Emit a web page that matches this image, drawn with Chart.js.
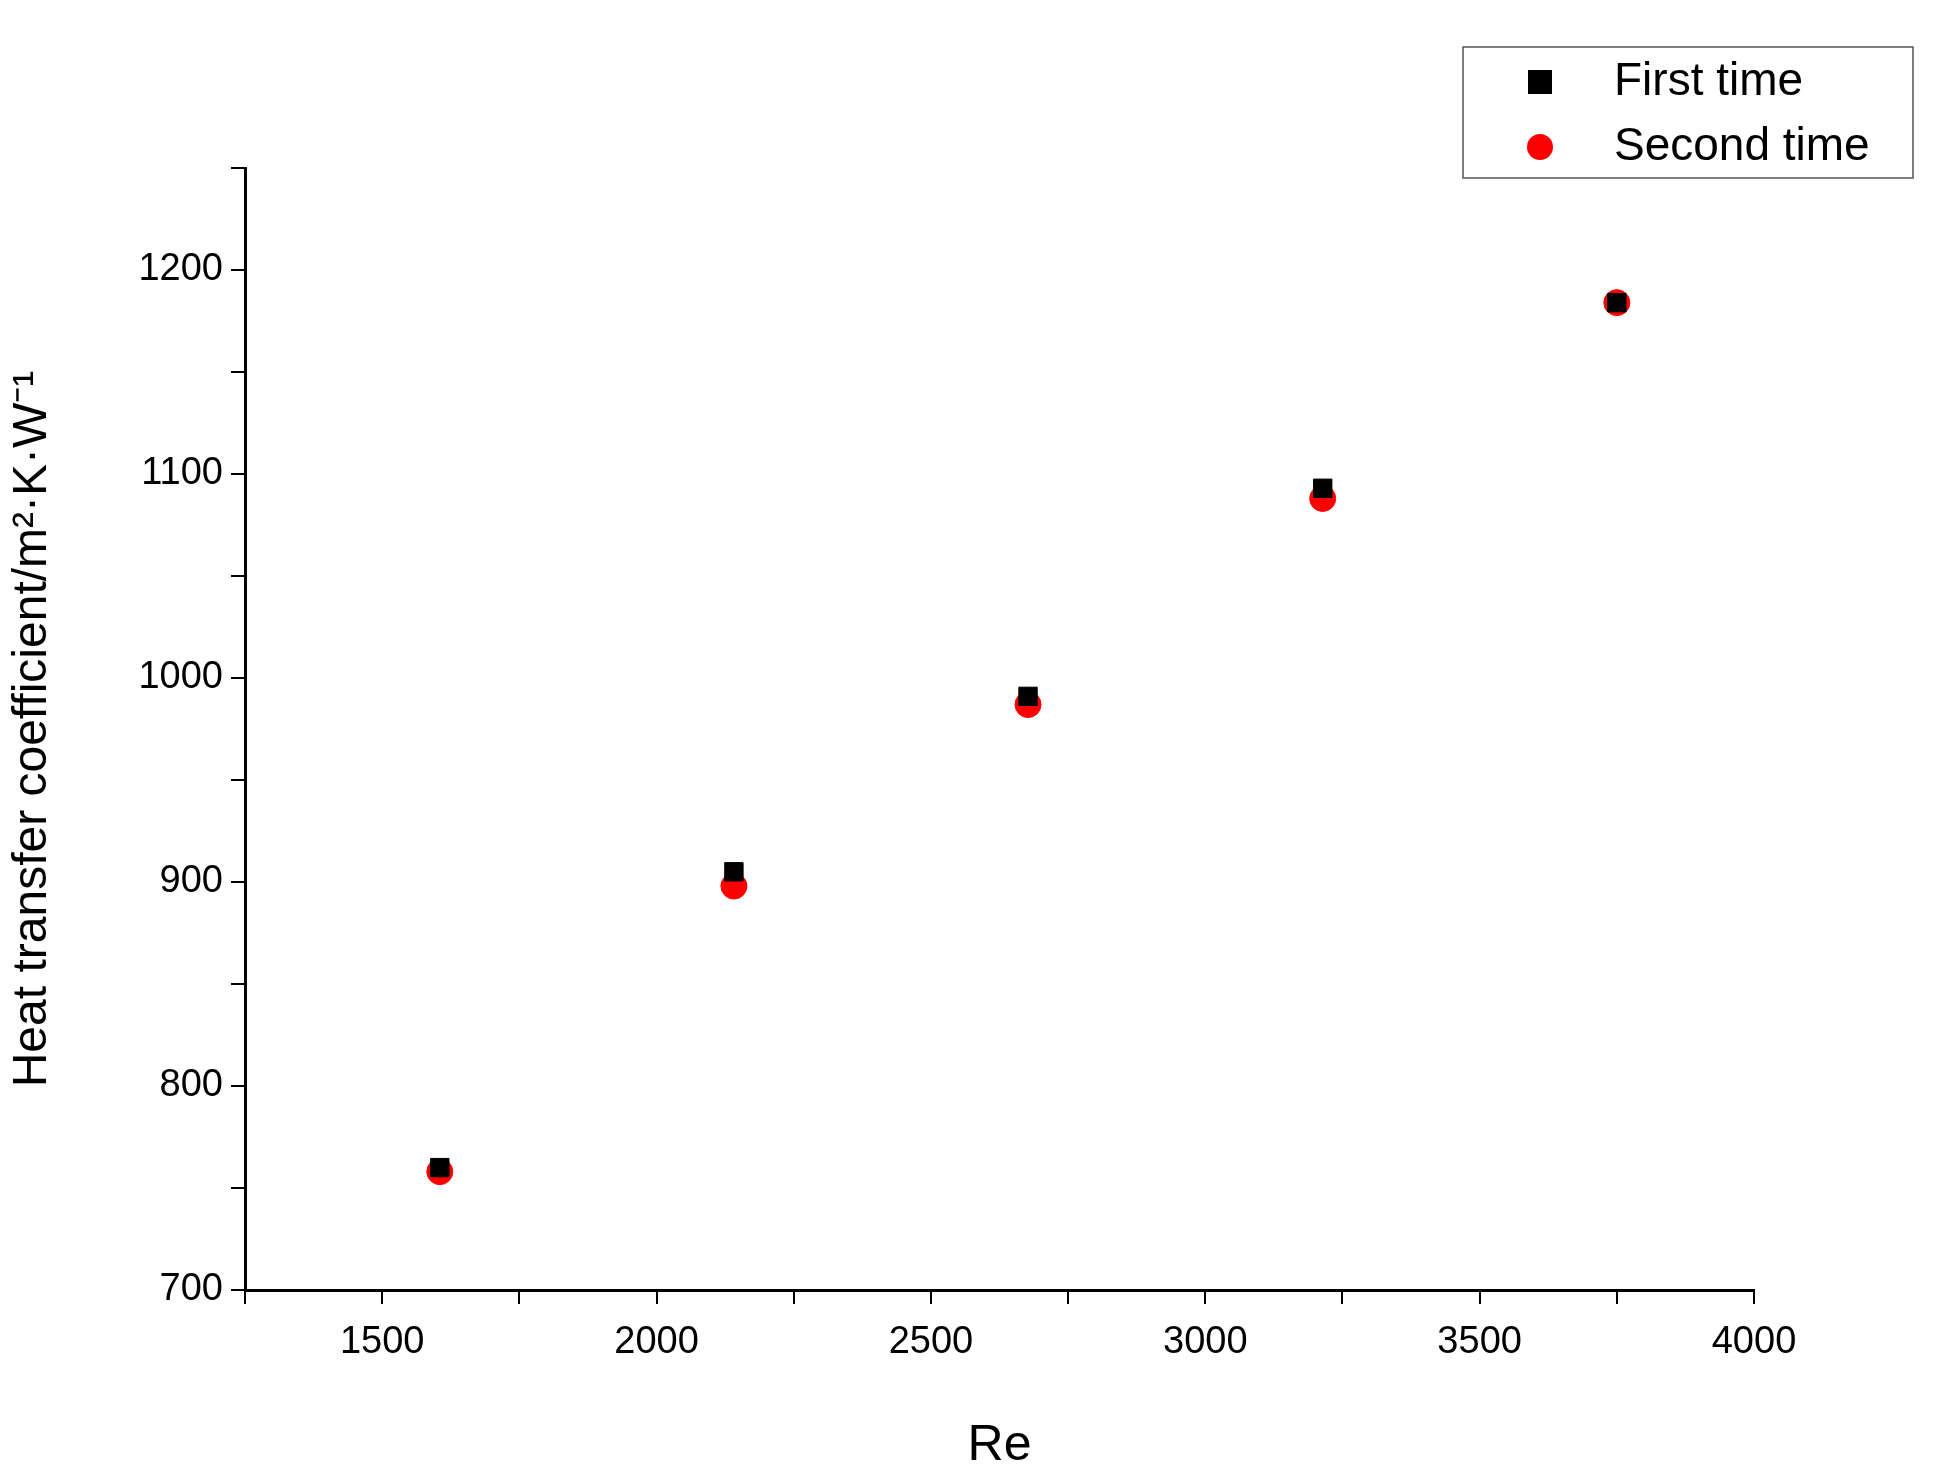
<!DOCTYPE html>
<html>
<head>
<meta charset="utf-8">
<script src="https://cdn.jsdelivr.net/npm/chart.js@4"></script>
<style>
  html, body { margin: 0; background: #fff; }
  canvas { display: block; }
</style>
</head>
<body>
<canvas id="heatChart" width="1940" height="1480"></canvas>
<script>
const reynolds = [1605, 2141, 2677, 3214, 3750];
const firstTime = [760, 905, 991, 1093, 1184];
const secondTime = [758, 898, 987, 1088, 1184];
const seriesNames = ['First time', 'Second time'];

const FONT = '"Liberation Sans", Arial, sans-serif';
const ctx = document.getElementById('heatChart').getContext('2d');

// легенда в рамке справа сверху
const boxLegend = {
  id: 'boxLegend',
  afterDraw(chart) {
    const c = chart.ctx;
    c.save();
    c.strokeStyle = '#555';
    c.lineWidth = 1.5;
    c.strokeRect(1463, 47, 450, 131);
    c.font = '46px ' + FONT;
    c.textBaseline = 'middle';
    c.fillStyle = '#000';
    c.fillRect(1528, 70, 24, 24);
    c.fillText(seriesNames[0], 1614, 82);
    c.fillStyle = '#ff0000';
    c.beginPath();
    c.arc(1540, 147, 13, 0, Math.PI * 2);
    c.fill();
    c.fillStyle = '#000';
    c.fillText(seriesNames[1], 1614, 147);
    c.restore();
  }
};

new Chart(ctx, {
  type: 'scatter',
  data: {
    datasets: [
      {
        label: seriesNames[0],
        data: reynolds.map((x, i) => ({ x, y: firstTime[i] })),
        pointStyle: 'rect',
        pointRadius: 13,
        backgroundColor: '#000',
        borderColor: '#000'
      },
      {
        label: seriesNames[1],
        data: reynolds.map((x, i) => ({ x, y: secondTime[i] })),
        pointStyle: 'circle',
        pointRadius: 13,
        backgroundColor: '#ff0000',
        borderColor: '#ff0000'
      }
    ]
  },
  options: {
    responsive: false,
    animation: false,
    layout: { padding: { top: 168, right: 186, left: 0, bottom: 0 } },
    plugins: { legend: { display: false }, tooltip: { enabled: false } },
    scales: {
      x: {
        type: 'linear',
        min: 1250, max: 4000,
        afterFit(s) { s.height = 190; },
        border: { color: '#000', width: 3 },
        grid: { drawOnChartArea: false, color: '#000', tickLength: 14, lineWidth: 2 },
        ticks: {
          stepSize: 250,
          color: '#000',
          font: { family: FONT, size: 38 },
          padding: 16,
          autoSkip: false,
          maxRotation: 0,
          callback: v => (v % 500 === 0 ? v : '')
        },
        title: { display: true, text: 'Re', color: '#000', font: { family: FONT, size: 50 }, padding: { top: 20 } }
      },
      y: {
        min: 700, max: 1250,
        afterFit(s) { s.width = 245; },
        border: { color: '#000', width: 3 },
        grid: { drawOnChartArea: false, color: '#000', tickLength: 14, lineWidth: 2 },
        ticks: {
          stepSize: 50,
          color: '#000',
          font: { family: FONT, size: 38 },
          padding: 8,
          autoSkip: false,
          callback: v => (v % 100 === 0 && v <= 1200 ? v : '')
        },
        title: { display: true, text: 'Heat transfer coefficient/m²·K·W⁻¹', color: '#000', font: { family: FONT, size: 48 }, padding: { bottom: 10 } }
      }
    }
  },
  plugins: [boxLegend]
});
</script>
</body>
</html>
